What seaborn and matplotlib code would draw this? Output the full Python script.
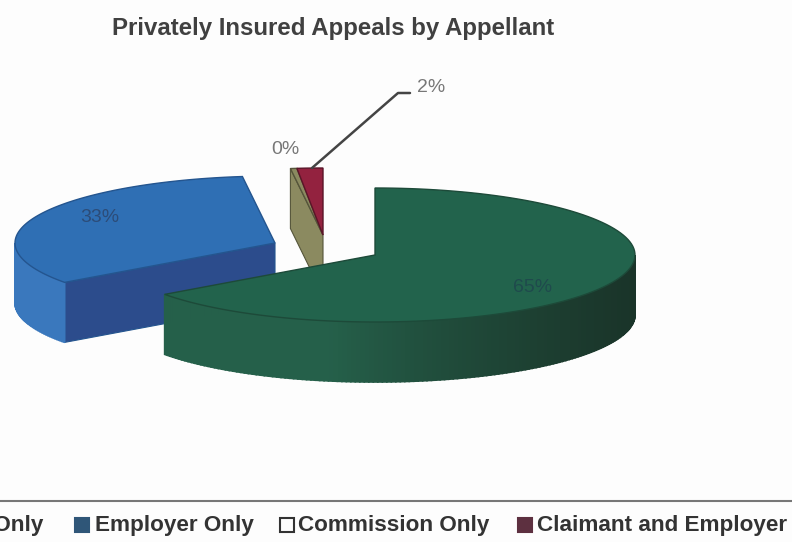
import numpy as np
import seaborn as sns
import matplotlib.pyplot as plt
from matplotlib.patches import Polygon, Rectangle

categories = ['Claimant Only', 'Employer Only', 'Commission Only', 'Claimant and Employer']
shares = [65, 33, 0.4, 1.6]
shown_labels = ['65%', '33%', '0%', '2%']
title = 'Privately Insured Appeals by Appellant'

# layout, in reference pixels
cx, cy, rx, ry, depth = 375, 255, 260, 67, 60
explode_x = [0, -100, -52, -52]
explode_y = [0, -12, -20, -20]
top_colors = ['#22634c', '#2f6fb4', '#8b8a60', '#93223f']
rim_left = ['#25604a', '#3a78bd', '#8b8a60', '#93223f']
rim_right = ['#1a3429', '#2f68ab', '#8b8a60', '#93223f']
cut_colors = [None, '#2c4c8c', '#8b8a60', None]
edge_colors = ['#1d4a39', '#24558f', '#55553a', '#5a1528']
legend_swatch = ['#22634c', '#2f5678', '#fdfdfd', '#5d3040']
legend_text_x = [-108, 95, 298, 537]
legend_box_x = [-128, 75, 280, 518]
label_xy = [(533, 288), (100, 218), (285, 150), (431, 87)]
label_colors = ['#1f4a4c', '#2c4c78', '#777777', '#777777']

sns.set_theme(style='white')
plt.rcParams['font.family'] = ['Liberation Sans', 'DejaVu Sans']

fig = plt.figure(figsize=(7.92, 5.42), dpi=100, facecolor='#fdfdfd')
ax = fig.add_axes([0, 0, 1, 1])
ax.set_xlim(0, 792)
ax.set_ylim(542, 0)
ax.axis('off')


def rim_point(x0, y0, deg):
    t = np.radians(deg)
    return x0 + rx * np.sin(t), y0 - ry * np.cos(t)


def draw_slice(i, start, end):
    x0 = cx + explode_x[i]
    y0 = cy + explode_y[i]
    # cut face on the clockwise start side, only where it faces the viewer
    if cut_colors[i] is not None:
        px, py = rim_point(x0, y0, start)
        ax.add_patch(Polygon([(x0, y0), (px, py), (px, py + depth), (x0, y0 + depth)],
                             fc=cut_colors[i], ec=edge_colors[i], lw=0.8))
    # outer rim, split into steps so the shading can run along it
    lo, hi = max(start, 90), min(end, 270)
    if hi > lo:
        steps = np.linspace(lo, hi, int(hi - lo) + 2)
        left = np.array(sns.desaturate(rim_left[i], 1))
        right = np.array(sns.desaturate(rim_right[i], 1))
        for a, b in zip(steps[:-1], steps[1:]):
            shade = right + (left - right) * min(1, ((a - 90) / 100)) ** 2
            p1, p2 = rim_point(x0, y0, a), rim_point(x0, y0, b)
            ax.add_patch(Polygon([p1, p2, (p2[0], p2[1] + depth), (p1[0], p1[1] + depth)],
                                 fc=shade, ec=shade, lw=1.2))
    # top face
    arc = [rim_point(x0, y0, d) for d in np.linspace(start, end, 120)]
    ax.add_patch(Polygon([(x0, y0)] + arc, fc=top_colors[i], ec=edge_colors[i], lw=1.0))


bounds = np.concatenate([[0], np.cumsum(shares)]) * 3.6
for i in [1, 2, 3, 0]:
    draw_slice(i, bounds[i], bounds[i + 1])

for txt, (x, y), c in zip(shown_labels, label_xy, label_colors):
    ax.text(x, y, txt, ha='center', va='center', fontsize=14, color=c)

# leader line for the 2% label
ax.plot([312, 398, 410], [168, 93, 93], color='#444444', lw=1.8)

ax.text(333, 29, title, ha='center', va='center', fontsize=17.3, fontweight='bold', color='#404040')

ax.plot([0, 792], [501, 501], color='#777777', lw=1.5)
for name, tx, bx, col in zip(categories, legend_text_x, legend_box_x, legend_swatch):
    ax.add_patch(Rectangle((bx, 518), 14, 14, fc=col, ec='#333333' if col == '#fdfdfd' else col, lw=1.5))
    ax.text(tx, 526, name, ha='left', va='center', fontsize=16.2, fontweight='bold', color='#333333')

fig.savefig('out.png', dpi=100, facecolor=fig.get_facecolor())
